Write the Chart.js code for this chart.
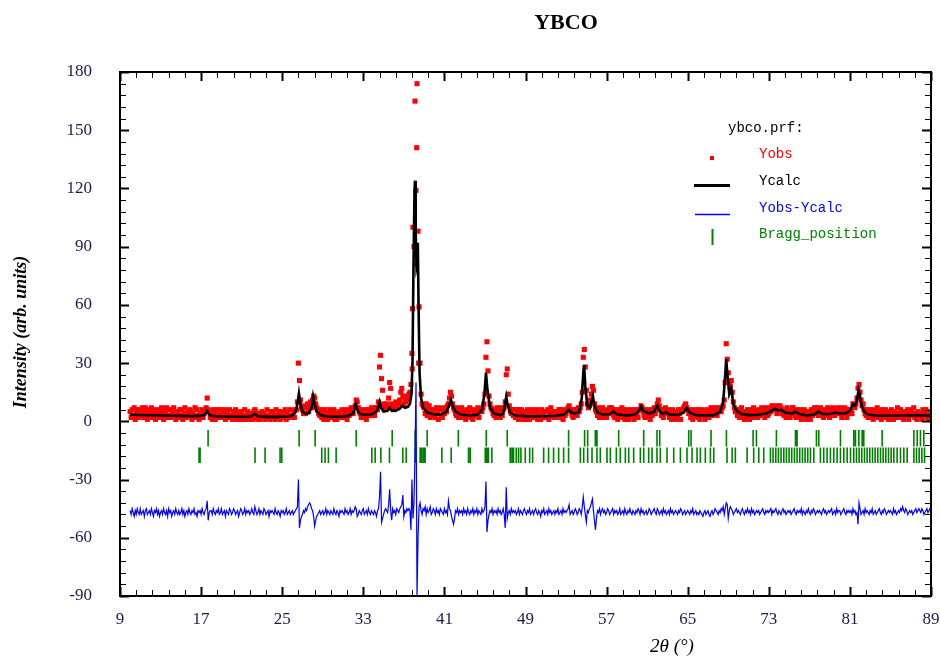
<!DOCTYPE html>
<html>
<head>
<meta charset="utf-8">
<title>YBCO</title>
<script src="https://cdn.jsdelivr.net/npm/chart.js@4.4.1/dist/chart.umd.min.js"></script>
<style>
  html, body { margin: 0; padding: 0; background: #ffffff; }
  canvas { display: block; }
</style>
</head>
<body>
<canvas id="c" width="940" height="659"></canvas>
<script>
// ---- Observed profile: 2theta from 10.0 deg in 0.1 deg steps ----
const obsStart = 10.0;
const obsStep = 0.1;
const obsCounts = [
  5,2,6,3,7,1,4,6,2,5,     // 10
  6,3,7,2,5,7,3,1,6,4,     // 11
  3,7,2,6,4,1,6,3,5,2,     // 12
  5,7,3,1,6,4,7,2,3,6,     // 13
  2,6,4,7,3,1,5,4,2,6,     // 14
  3,6,1,4,7,3,2,5,4,6,     // 15
  5,1,4,3,7,2,6,3,1,4,     // 16
  3,6,2,4,5,7,12,6,5,2,    // 17
  4,1,6,3,1,5,6,2,3,6,     // 18
  2,5,3,6,1,3,5,2,6,3,     // 19
  3,1,5,2,6,3,1,4,1,5,     // 20
  4,1,3,6,1,2,5,3,1,4,     // 21
  3,1,5,6,5,2,1,4,1,3,     // 22
  5,2,4,1,3,6,2,3,1,5,     // 23
  2,5,3,1,6,2,3,5,1,3,     // 24
  5,2,3,6,1,4,3,2,6,3,     // 25
  3,5,2,6,6,10,30,21,11,7, // 26
  6,4,8,4,7,9,5,8,10,7,    // 27
  11,13,12,9,7,6,4,3,6,2,  // 28
  5,1,6,3,4,1,3,6,2,5,     // 29
  3,6,1,4,1,3,5,2,3,6,     // 30
  2,5,3,6,1,4,3,6,7,4,     // 31
  4,7,8,11,10,7,5,4,2,6,   // 32
  4,2,6,1,4,6,3,5,7,5,     // 33
  5,3,7,7,6,10,28,34,22,16, // 34
  9,7,6,9,7,12,20,17,9,8,  // 35
  6,8,10,7,9,9,11,15,17,13, // 36
  9,12,10,13,11,14,15,19,35,100, // 37
  90,165,119,174,98,59,30,14,9,8, // 38
  7,4,9,3,6,8,2,6,5,3,     // 39
  6,2,7,4,1,6,7,3,2,5,     // 40
  4,7,5,8,9,12,15,13,9,7,  // 41
  6,4,3,7,2,6,4,7,2,5,     // 42
  5,1,6,3,4,7,2,6,1,4,     // 43
  3,6,4,7,2,5,6,5,7,9,     // 44
  14,33,41,26,13,9,7,6,4,3, // 45
  6,2,7,4,5,2,7,3,6,7,     // 46
  10,24,27,14,8,5,4,6,3,6, // 47
  2,6,4,1,6,3,6,4,1,3,     // 48
  5,1,6,3,1,5,3,6,2,4,     // 49
  3,6,1,4,3,1,6,3,5,2,     // 50
  5,2,6,1,4,7,3,5,2,4,     // 51
  2,5,3,6,6,2,4,1,6,3,     // 52
  4,6,7,8,6,5,3,2,6,5,     // 53
  6,3,7,5,7,9,15,33,37,28, // 54
  16,9,7,8,11,14,18,16,9,6, // 55
  5,3,7,2,6,4,7,2,5,4,     // 56
  2,6,4,7,5,7,6,3,2,6,     // 57
  4,1,6,3,4,7,2,6,1,4,     // 58
  3,6,1,5,3,6,4,1,6,3,     // 59
  4,2,6,6,8,7,5,3,2,6,     // 60
  4,2,6,1,4,3,6,7,4,6,     // 61
  9,11,8,6,3,6,2,5,7,4,    // 62
  5,6,2,4,1,6,3,5,1,4,     // 63
  3,6,4,1,6,6,7,8,9,7,     // 64
  6,4,5,2,6,1,4,3,6,4,     // 65
  2,6,1,4,3,6,4,1,5,3,     // 66
  6,2,4,7,3,5,4,7,5,3,     // 67
  5,7,6,5,7,8,11,20,40,32, // 68
  25,20,18,21,15,10,7,5,6,3, // 69
  6,2,4,7,2,5,1,4,3,6,     // 70
  4,1,6,3,4,7,2,5,4,2,     // 71
  6,3,4,7,4,5,2,7,5,3,     // 72
  4,7,5,8,6,8,7,6,4,8,     // 73
  6,8,7,4,6,3,5,2,7,4,     // 74
  5,2,4,7,7,5,3,2,6,4,     // 75
  2,6,1,4,3,6,4,1,5,3,     // 76
  4,1,6,3,4,7,5,7,6,3,     // 77
  5,7,3,5,2,4,6,3,7,4,     // 78
  2,6,4,7,5,3,6,5,7,5,     // 79
  4,7,2,5,4,7,5,2,6,4,     // 80
  6,5,4,9,8,7,9,12,17,19,  // 81
  15,11,8,9,6,4,3,6,2,4,   // 82
  6,2,4,1,6,3,4,7,2,5,     // 83
  4,1,6,3,4,6,2,4,1,5,     // 84
  3,6,4,1,5,3,4,7,2,4,     // 85
  6,2,4,1,5,4,3,6,1,4,     // 86
  3,6,4,7,2,4,1,5,4,3,     // 87
  4,1,6,3,4,6,2,5,1,4,     // 88
  3                        // 89
];
// extra observed points recorded on the steep flanks of the strongest reflection
const obsPeakTheta  = [37.82, 37.86, 38.14, 38.16, 38.27, 38.46];
const obsPeakCounts = [27, 58, 85, 81, 141, 30];

// ---- Calculated profile ----
const calcTheta = [
  10,11,12,13,14,15,16,17, 17.3,17.5,17.6,17.7,17.9, 18.5,19.5,20.5,21.5,
  22.0,22.3,22.6, 23.5,24.5,25.5, 26.0,26.3,26.5,26.65,26.8, 27.0,27.3,27.6,27.9,
  28.05,28.2,28.4,28.8, 29.5,30.5,31.5, 32.0,32.15,32.25,32.4,32.7, 33.3,33.9,
  34.3,34.5,34.6,34.75, 35.0,35.4,35.6,35.8, 36.2,36.6,36.85,
  37.1,37.4,37.6,37.75,37.85,37.95,
  38.05,38.1,38.17,38.25,38.32,38.38,38.45,38.55,38.7,38.9,
  39.3, 40.0,40.7, 41.2,41.5,41.65,41.8, 42.1,42.6, 43.5, 44.3,44.7,44.95,
  45.1,45.25,45.5,45.9, 46.5,46.8,46.95, 47.1,47.25,47.5, 48,49,50,51,52, 52.8,
  53.1,53.3,53.5,53.9, 54.3,54.55,54.7,54.78,54.9, 55.1,55.35,55.55,55.65,55.8,
  56.1,56.6, 57.3,57.7, 58.0,59.0,59.8, 60.2,60.4,60.6, 61.2,61.7,61.9,
  62.0,62.2,62.5,62.85, 63.2, 64.0,64.6,64.9, 65.2,65.8, 66.8,67.6,
  68.2,68.5,68.7,68.8,68.9, 69.1,69.3,69.5,69.8, 70.3,71.0,72.0,72.8,
  73.3,73.6, 74.0,74.2,74.6, 75.3,75.6, 76.0,76.8, 77.5,77.9, 78.3,79.0,79.6,
  80.0,80.6, 81.0,81.3,81.5,81.7,81.85, 82.0,82.15,82.4,82.8,
  83.5,84.5,85.5,86.5,87.5,88.5,89.0
];
const calcCounts = [
  3.4,3.3,3.1,3.0,2.9,2.8,2.7,2.8, 3.2,4.6,5.3,4.4,3.0, 2.6,2.5,2.4,2.4,
  2.7,3.8,2.6, 2.3,2.3,2.5, 3.0,4.5,9,14.4,9, 5,4,4.2,7,
  12.9,9,5,3.2, 2.5,2.4,2.8, 4,7,9,6,3.8, 3.3,3.8,
  5,8,10,7, 5,5.5,7,5.5, 5.5,6.5,8,
  7,7.5,9,14,30,79,
  118,124,98,80,82,92,60,25,12,7,
  4.5, 3.5,3.5, 5,9,11,8, 5,3.5, 3.0, 3.5,6,14,
  25,16,7,4, 3.2,4,8, 12.6,8,4.5, 3,2.7,2.6,2.7,2.9, 3.5,
  5,6,4.5,4, 5,12,25,29,18, 8,7,11,13,8,
  4.5,3.5, 3.8,5, 3.6,3.0,3.5, 5.5,7.7,5.5, 4,5,7.5,
  8.2,5.5,3.8,4.7, 3.5, 3.3,4.5,6.9, 4.5,3.2, 3.0,3.2,
  5,10,24,32,25, 14,17,9,5.5, 3.8,3.2,3.4,4.2,
  5.5,6.5, 5.5,6,4.5, 4,5, 3.8,3.0, 3.5,5, 3.8,3.8,4.5,
  4,4.2, 5.5,8.7,8,11,16, 13,8,5,3.5,
  3.0,2.9,2.9,3.0,3.1,3.0,3.0
];

// ---- Difference Yobs - Ycalc: 2theta from 10.0 deg in 0.1 deg steps ----
const diffStart = 10.0;
const diffStep = 0.1;
const diffOffset = -47;   // vertical shift of the difference curve
const diffCounts = [
  1,-1,2,0,-2,1,-1,2,0,-1,     // 10
  2,-1,0,1,-2,1,2,-1,0,1,      // 11
  -1,2,0,-2,1,0,2,-1,1,-2,     // 12
  0,1,-1,2,0,-1,1,-2,2,0,      // 13
  1,-2,0,1,-1,2,0,-1,1,-1,     // 14
  0,2,-1,1,-2,0,1,-1,2,0,      // 15
  -1,1,0,2,-1,0,-2,1,0,1,      // 16
  -1,2,0,-1,1,2,6,-4,0,1,      // 17
  1,-1,2,0,-1,1,0,2,-1,0,      // 18
  2,-1,0,1,-2,1,0,-1,2,1,      // 19
  -1,0,2,1,-1,0,1,-2,0,2,      // 20
  1,-1,0,2,-1,1,0,1,-1,0,      // 21
  2,0,-1,3,1,-1,0,2,-1,1,      // 22
  0,-1,2,1,-1,0,1,-2,1,0,      // 23
  1,0,-1,2,0,-1,1,0,-2,1,      // 24
  0,1,-1,0,2,-1,0,1,-1,0,      // 25
  1,-1,0,1,2,3,17,-8,-4,-2,    // 26
  -1,1,0,2,1,3,4,5,4,2,        // 27
  1,-2,-7,-4,-2,-1,0,1,-1,0,   // 28
  1,-1,0,2,-1,1,0,-1,1,0,      // 29
  -1,2,0,-1,1,0,-2,1,0,1,      // 30
  0,-1,2,0,1,-1,0,2,-1,1,      // 31
  0,1,3,2,-2,-1,1,0,-1,1,      // 32
  2,-1,0,1,-1,2,0,-1,1,0,      // 33
  -1,1,0,-2,1,2,8,21,-5,-3,    // 34
  -1,1,2,1,0,4,12,1,-4,2,      // 35
  0,1,-1,2,1,0,2,3,4,9,        // 36
  -2,1,0,2,1,2,1,-9,17,-3,     // 37
  5,30,67,-43,-13,3,5,1,-1,2,  // 38
  1,3,-1,2,0,1,3,-1,0,2,       // 39
  1,-1,2,0,1,-1,2,1,0,-1,      // 40
  2,0,1,-1,6,2,1,-2,-4,-6,     // 41
  -3,1,0,2,-1,1,0,1,-1,2,      // 42
  0,1,-1,2,0,-1,1,0,2,-1,      // 43
  1,0,2,-1,1,0,-1,2,0,1,       // 44
  3,16,-10,-4,-1,1,0,2,-1,1,   // 45
  0,1,-1,2,0,1,-1,0,2,-1,      // 46
  -8,13,-3,0,1,-1,2,0,1,0,     // 47
  1,-1,0,2,-1,1,0,-1,1,2,      // 48
  0,-1,1,0,2,-1,0,1,-1,1,      // 49
  2,0,-1,1,0,-2,1,0,2,-1,      // 50
  0,1,-1,2,0,1,-1,0,1,-1,      // 51
  1,0,2,-1,0,1,-1,2,0,1,       // 52
  0,1,2,4,-1,0,1,-1,0,2,       // 53
  1,-1,0,2,1,-1,3,8,3,-1,      // 54
  -5,1,0,2,3,5,7,1,-4,-9,      // 55
  -3,1,0,2,-1,1,2,0,1,-1,      // 56
  0,2,1,-1,0,1,2,-1,1,0,       // 57
  1,-1,0,2,-1,0,1,-1,2,0,      // 58
  -1,1,0,2,0,-1,1,0,-1,1,      // 59
  0,2,1,-1,2,0,1,-1,0,1,       // 60
  -1,0,2,1,-1,0,1,2,0,-1,      // 61
  2,1,-1,0,1,-1,2,0,1,-1,      // 62
  0,1,-1,2,0,1,-1,0,1,0,       // 63
  -1,1,0,2,1,-1,0,1,-1,0,      // 64
  1,0,-1,1,0,2,-1,0,1,-1,      // 65
  0,-1,1,0,-1,-2,0,1,-1,0,     // 66
  1,-1,-2,0,1,-1,0,2,1,0,      // 67
  -1,1,0,2,1,3,-1,2,5,4,       // 68
  -3,1,3,2,1,-1,0,1,2,0,       // 69
  1,0,-1,1,2,0,-1,1,0,2,       // 70
  0,1,-1,2,0,1,-1,0,1,0,       // 71
  1,-1,0,1,2,0,-1,1,0,1,       // 72
  0,1,2,-1,1,0,1,2,0,-1,       // 73
  1,0,-1,1,2,0,1,-1,0,1,       // 74
  0,1,-1,0,1,2,0,-1,1,0,       // 75
  1,0,2,-1,1,0,-1,1,0,2,       // 76
  0,-1,1,0,2,1,-1,0,1,0,       // 77
  1,0,-1,1,2,0,1,-1,0,1,       // 78
  0,1,2,-1,0,1,-1,2,0,1,       // 79
  1,-1,0,1,2,0,-1,1,0,1,       // 80
  0,1,-1,2,0,1,-1,0,-6,5,      // 81
  2,-1,0,1,-1,2,0,1,0,-1,      // 82
  1,0,2,-1,0,1,-1,0,1,2,       // 83
  0,-1,1,0,2,1,-1,0,1,0,       // 84
  1,0,-1,2,0,1,-1,0,1,0,       // 85
  2,1,3,1,0,2,1,-1,0,1,        // 86
  0,1,-1,0,1,2,0,1,2,1,        // 87
  0,2,1,-1,0,1,2,0,1,2,        // 88
  1                            // 89
];

// ---- Bragg reflection positions (two rows of markers) ----
const braggRow1 = [
  17.69,26.67,28.25,32.3,35.85,38.12,39.3,42.37,45.13,47.2,
  53.25,54.83,55.13,55.89,56.05,58.19,60.66,61.97,62.24,65.1,65.33,67.3,68.82,
  71.45,71.78,73.75,75.63,75.79,77.7,77.93,80.07,81.38,81.55,81.88,82.21,82.37,
  84.18,87.31,87.64,87.96,88.29
];
const braggRow2 = [
  16.8,16.9,22.32,23.31,24.79,24.96,28.9,29.23,29.56,30.32,33.84,34.17,34.73,35.58,
  36.9,37.23,38.12,38.61,38.77,38.94,39.1,40.75,41.67,43.38,43.55,45.03,45.19,45.35,
  45.68,47.49,47.66,47.82,48.09,48.32,48.55,48.98,49.41,49.7,50.79,51.28,51.77,52.27,
  52.76,53.25,54.41,54.74,55.13,55.56,56.05,56.38,57.04,57.37,57.96,58.35,58.85,59.18,
  59.67,60.33,60.66,61.15,61.48,61.97,62.3,62.96,63.62,64.28,64.93,65.43,65.92,66.25,
  66.74,67.24,67.57,68.88,69.38,69.7,70.86,71.51,72.01,72.5,73.16,73.42,73.69,73.95,
  74.21,74.48,74.74,75.0,75.26,75.53,75.79,76.05,76.32,76.58,76.84,77.11,77.44,78.09,
  78.42,78.75,79.08,79.41,79.74,80.07,80.4,80.73,81.06,81.38,81.65,81.91,82.17,82.44,
  82.7,82.96,83.23,83.49,83.75,84.02,84.28,84.54,84.81,85.07,85.33,85.66,85.99,86.32,
  86.65,87.31,87.57,87.83,88.1,88.36
];
const braggRow1Span = [-13, -4.5];
const braggRow2Span = [-21.5, -13.5];

// ---- Axes ----
const xMin = 9, xMax = 89, xMajor = 8, xMinor = 1.6;
const yMin = -90, yMax = 180, yMajor = 30, yMinor = 6;

const chartTitle = 'YBCO';
const xTitle = '2\u03b8 (\u00b0)';
const yTitle = 'Intensity (arb. units)';
const legendTitle = 'ybco.prf:';

// ---- Build datasets ----
const obsPoints = obsCounts.map((v, i) => ({ x: +(obsStart + i * obsStep).toFixed(2), y: v }))
  .concat(obsPeakTheta.map((t, i) => ({ x: t, y: obsPeakCounts[i] })));
const calcPoints = calcTheta.map((t, i) => ({ x: t, y: calcCounts[i] }));
const diffPoints = diffCounts.map((v, i) => ({ x: +(diffStart + i * diffStep).toFixed(2), y: v + diffOffset }));
function markerSegments(rows) {
  const pts = [];
  rows.forEach(([pos, span]) => {
    pos.forEach(p => {
      pts.push({ x: p, y: span[1] }, { x: p, y: span[0] }, { x: p, y: null });
    });
  });
  return pts;
}
const braggPoints = markerSegments([[braggRow1, braggRow1Span], [braggRow2, braggRow2Span]]);

const serif = '"Liberation Serif", "Times New Roman", serif';
const mono = '"Liberation Mono", "Courier New", monospace';
const tickColor = '#1b1b4d';

// frame with inward ticks on every side, drawn from the scales
const framePlugin = {
  id: 'frame',
  afterDatasetsDraw(chart) {
    const { ctx, chartArea: a, scales: { x, y } } = chart;
    ctx.save();
    ctx.strokeStyle = '#000';
    const isMajor = (v, origin, step) => Math.abs((v - origin) / step - Math.round((v - origin) / step)) < 1e-6;
    const nx = Math.round((xMax - xMin) / xMinor);
    for (let i = 0; i <= nx; i++) {
      const v = xMin + i * xMinor;
      const px = Math.round(x.getPixelForValue(v)) + 0.5;
      const major = isMajor(v, xMin, xMajor);
      const len = major ? 9 : 6;
      ctx.lineWidth = major ? 2 : 1;
      ctx.beginPath();
      ctx.moveTo(px, a.bottom); ctx.lineTo(px, a.bottom - len);
      ctx.moveTo(px, a.top); ctx.lineTo(px, a.top + len);
      ctx.stroke();
    }
    const ny = Math.round((yMax - yMin) / yMinor);
    for (let i = 0; i <= ny; i++) {
      const v = yMin + i * yMinor;
      const py = Math.round(y.getPixelForValue(v)) + 0.5;
      const major = isMajor(v, yMin, yMajor);
      const len = major ? 9 : 6;
      ctx.lineWidth = major ? 2 : 1;
      ctx.beginPath();
      ctx.moveTo(a.left, py); ctx.lineTo(a.left + len, py);
      ctx.moveTo(a.right, py); ctx.lineTo(a.right - len, py);
      ctx.stroke();
    }
    ctx.lineWidth = 2;
    ctx.strokeRect(a.left, a.top, a.right - a.left, a.bottom - a.top);
    ctx.restore();
  }
};

// title, axis titles and the key
const textPlugin = {
  id: 'texts',
  afterDraw(chart) {
    const { ctx } = chart;
    ctx.save();
    ctx.fillStyle = '#000';
    ctx.textAlign = 'center';
    ctx.textBaseline = 'middle';
    ctx.font = 'bold 22px ' + serif;
    ctx.fillText(chartTitle, 566, 23);

    ctx.font = 'italic 19px ' + serif;
    ctx.fillText(xTitle, 672, 647);

    ctx.save();
    ctx.translate(21, 332);
    ctx.rotate(-Math.PI / 2);
    ctx.font = 'bold italic 18px ' + serif;
    ctx.fillText(yTitle, 0, 0);
    ctx.restore();

    // key
    const ds = chart.data.datasets;
    const byLabel = l => ds.find(d => d.label === l);
    ctx.textAlign = 'left';
    ctx.font = '14px ' + mono;
    ctx.fillStyle = '#000';
    ctx.fillText(legendTitle, 728, 128);
    const tx = 759;
    const obs = byLabel('Yobs');
    ctx.fillStyle = obs.backgroundColor;
    ctx.fillRect(710, 156, 4, 4);
    ctx.fillText('Yobs', tx, 154);
    const calc = byLabel('Ycalc');
    ctx.strokeStyle = calc.borderColor; ctx.lineWidth = 3;
    ctx.beginPath(); ctx.moveTo(694, 185.5); ctx.lineTo(730, 185.5); ctx.stroke();
    ctx.fillStyle = calc.borderColor;
    ctx.fillText('Ycalc', tx, 181);
    const dif = byLabel('Yobs-Ycalc');
    ctx.strokeStyle = dif.borderColor; ctx.lineWidth = 1.5;
    ctx.beginPath(); ctx.moveTo(695, 214.5); ctx.lineTo(730, 214.5); ctx.stroke();
    ctx.fillStyle = dif.borderColor;
    ctx.fillText('Yobs-Ycalc', tx, 208);
    const br = byLabel('Bragg_position');
    ctx.strokeStyle = br.borderColor; ctx.lineWidth = 2;
    ctx.beginPath(); ctx.moveTo(712.5, 229); ctx.lineTo(712.5, 245); ctx.stroke();
    ctx.fillStyle = br.borderColor;
    ctx.fillText('Bragg_position', tx, 234);
    ctx.restore();
  }
};

new Chart(document.getElementById('c'), {
  type: 'scatter',
  data: {
    datasets: [
      {
        label: 'Bragg_position', type: 'line', data: braggPoints,
        borderColor: '#008000', borderWidth: 1.6, pointRadius: 0, spanGaps: false, order: 4
      },
      {
        label: 'Yobs', data: obsPoints, pointStyle: 'rect', pointRadius: 3.6,
        backgroundColor: '#ff0000', borderWidth: 0, order: 3
      },
      {
        label: 'Ycalc', type: 'line', data: calcPoints, borderColor: '#000000',
        borderWidth: 2.6, pointRadius: 0, tension: 0, order: 2
      },
      {
        label: 'Yobs-Ycalc', type: 'line', data: diffPoints, borderColor: '#0000ff',
        borderWidth: 1.2, pointRadius: 0, tension: 0, order: 1
      }
    ]
  },
  options: {
    responsive: false,
    animation: false,
    devicePixelRatio: 1,
    layout: { padding: { top: 72, right: 9, bottom: 0, left: 0 } },
    plugins: { legend: { display: false }, tooltip: { enabled: false }, title: { display: false } },
    scales: {
      x: {
        type: 'linear', min: xMin, max: xMax,
        afterFit(s) { s.height = 63; s.paddingLeft = 0; s.paddingRight = 0; },
        grid: { display: false, drawTicks: false },
        border: { display: false },
        ticks: { stepSize: xMajor, padding: 13, color: tickColor, font: { family: serif, size: 17 }, maxRotation: 0 }
      },
      y: {
        type: 'linear', min: yMin, max: yMax,
        afterFit(s) { s.width = 120; s.paddingTop = 0; s.paddingBottom = 0; },
        grid: { display: false, drawTicks: false },
        border: { display: false },
        ticks: { stepSize: yMajor, padding: 28, color: tickColor, font: { family: serif, size: 17 } }
      }
    }
  },
  plugins: [framePlugin, textPlugin]
});
</script>
</body>
</html>
